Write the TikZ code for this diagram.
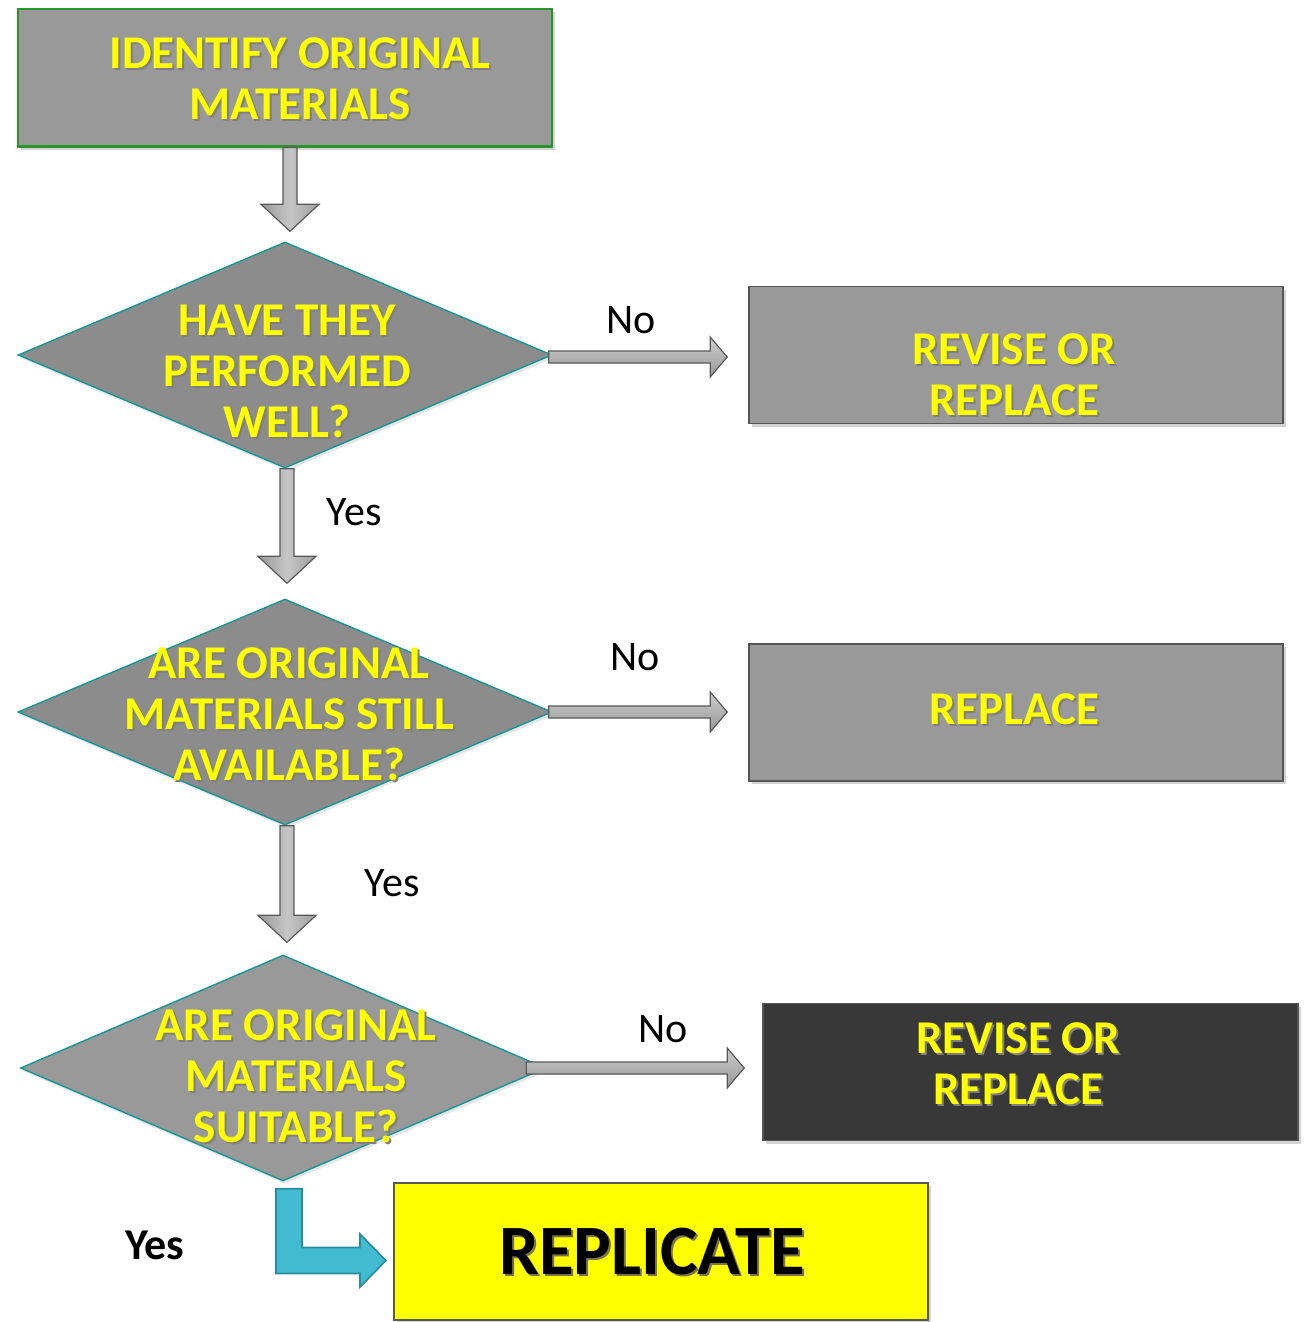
\documentclass[tikz,border=0pt]{standalone}
\usepackage{fontspec}
\setmainfont{Carlito}
\usetikzlibrary{shapes.geometric,calc,shadows}

\definecolor{boxgray}{RGB}{153,153,153}
\definecolor{dmdgray}{RGB}{140,140,140}
\definecolor{boxline}{RGB}{85,85,85}
\definecolor{topline}{RGB}{40,150,40}
\definecolor{dmdline}{RGB}{20,150,150}
\definecolor{darkfill}{RGB}{56,56,56}
\definecolor{txtyellow}{RGB}{255,255,0}
\definecolor{arrblue}{RGB}{66,186,208}
\definecolor{arrblueline}{RGB}{40,140,160}

% yellow caption with a dark drop shadow behind it
\newcommand\shd[2][black!50]{\rlap{\hspace{1pt}\raisebox{-1pt}{\color{#1}#2}}#2}

% block arrows, from a start point to the tip
\newcommand\varrow[2]{%
  \draw[grayarr, left color=gray!80, right color=gray!75, middle color=gray!45]
    let \p1=#1, \p2=#2 in
    (\x1-3.5pt,\y1) -- (\x1-3.5pt,\y2+13.5pt) -- (\x1-14.5pt,\y2+13.5pt) -- (\x1,\y2)
    -- (\x1+14.5pt,\y2+13.5pt) -- (\x1+3.5pt,\y2+13.5pt) -- (\x1+3.5pt,\y1) -- cycle;}
\newcommand\harrow[2]{%
  \draw[grayarr, top color=gray!40, bottom color=gray!80]
    let \p1=#1, \p2=#2 in
    (\x1,\y1+3pt) -- (\x2-8.5pt,\y1+3pt) -- (\x2-8.5pt,\y1+10pt) -- (\x2,\y1)
    -- (\x2-8.5pt,\y1-10pt) -- (\x2-8.5pt,\y1-3pt) -- (\x1,\y1-3pt) -- cycle;}

\tikzset{
  shad/.style={drop shadow={opacity=0.35,shadow xshift=1.5pt,shadow yshift=-1.5pt}},
  box/.style={draw=boxline, line width=0.8pt, fill=boxgray, minimum width=267pt,
    minimum height=68.5pt, inner sep=0pt, shad},
  topbox/.style={box, draw=topline, line width=1pt},
  darkbox/.style={box, fill=darkfill, draw=boxline},
  repbox/.style={box, fill=txtyellow, draw=black!65, line width=1pt},
  dmd/.style={diamond, draw=dmdline, line width=0.7pt, fill=dmdgray, inner sep=0pt,
    minimum width=267pt, minimum height=113pt,
    drop shadow={opacity=0.2,shadow xshift=1pt,shadow yshift=-1.5pt}},
  boxtxt/.style={text=txtyellow, font=\bfseries\fontsize{23.5}{25.5}\selectfont,
    align=center, inner sep=0pt},
  lbl/.style={font=\fontsize{21}{24}\selectfont, inner sep=0pt},
  grayarr/.style={draw=black!65, line width=0.6pt},
}

\begin{document}
\begin{tikzpicture}[x=0.5pt,y=-0.5pt]
\useasboundingbox (0,0) rectangle (1306,1322);

% left column: start box and the three questions
\node[topbox] (idf) at (285,78) {};
\node[boxtxt] (idf-t) at (300,80) {\shd{IDENTIFY ORIGINAL}\\\shd{MATERIALS}};

\node[dmd] (d1) at (285,355) {};
\node[boxtxt] (d1-t) at (287,372) {\shd{HAVE THEY}\\\shd{PERFORMED}\\\shd{WELL?}};

\node[dmd] (d2) at (285,712) {};
\node[boxtxt] (d2-t) at (289,715) {\shd{ARE ORIGINAL}\\\shd{MATERIALS STILL}\\\shd{AVAILABLE?}};

\node[dmd, fill=boxgray, minimum width=262.5pt] (d3) at (283,1068) {};
\node[boxtxt] (d3-t) at (296,1077) {\shd{ARE ORIGINAL}\\\shd{MATERIALS}\\\shd{SUITABLE?}};

% right column: outcomes
\node[box] (rv1) at (1016,355) {};
\node[boxtxt] (rv1-t) at (1014,376) {\shd{REVISE OR}\\\shd{REPLACE}};

\node[box] (rp) at (1016,712.5) {};
\node[boxtxt] (rp-t) at (1014,710) {\shd{REPLACE}};

\node[darkbox, minimum width=267.5pt] (rv2) at (1030.5,1072) {};
\node[boxtxt] (rv2-t) at (1018,1065) {\shd{REVISE OR}\\\shd{REPLACE}};

\node[repbox] (rep) at (661,1251.5) {};
\node[font=\bfseries\fontsize{35.4}{40}\selectfont, inner sep=0pt] (rep-t) at (652,1253)
  {\shd[yellow!40!black]{REPLICATE}};

% arrows
\varrow{($(idf.south)+(5,0)$)}{($(d1.north)+(5,-10)$)}
\varrow{($(d1.south)+(2,0)$)}{($(d2.north)+(2,-15)$)}
\varrow{($(d2.south)+(2,0)$)}{($(d3.north)+(4,-12)$)}

\harrow{($(d1.east)+(-4,2)$)}{($(rv1.west)+(-21,2)$)}
\harrow{($(d2.east)+(-4,0)$)}{($(rp.west)+(-21,0)$)}
\harrow{($(d3.east)+(-20,0)$)}{($(rv2.west)+(-18,-4)$)}

% bent arrow into the last box
\draw[fill=arrblue, draw=arrblueline, line width=0.8pt]
  let \p1=($(d3.south)+(6,7)$), \p2=($(rep.west)+(-7,9)$) in
  (\x1-6.5pt,\y1) -- (\x1+6.5pt,\y1) -- (\x1+6.5pt,\y2+6.5pt) -- (\x2-13pt,\y2+6.5pt)
  -- (\x2-13pt,\y2+13.25pt) -- (\x2,\y2) -- (\x2-13pt,\y2-13.25pt)
  -- (\x2-13pt,\y2-6.5pt) -- (\x1-6.5pt,\y2-6.5pt) -- cycle;

% branch labels
\node[lbl] (no1) at (631,320) {No};
\node[lbl] (no2) at (635,657) {No};
\node[lbl] (no3) at (663,1029) {No};
\node[lbl] (yes1) at (354,512) {Yes};
\node[lbl] (yes2) at (392,883) {Yes};
\node[lbl, font=\bfseries\fontsize{22}{24}\selectfont] (yes3) at (155,1245) {Yes};
\end{tikzpicture}
\end{document}
